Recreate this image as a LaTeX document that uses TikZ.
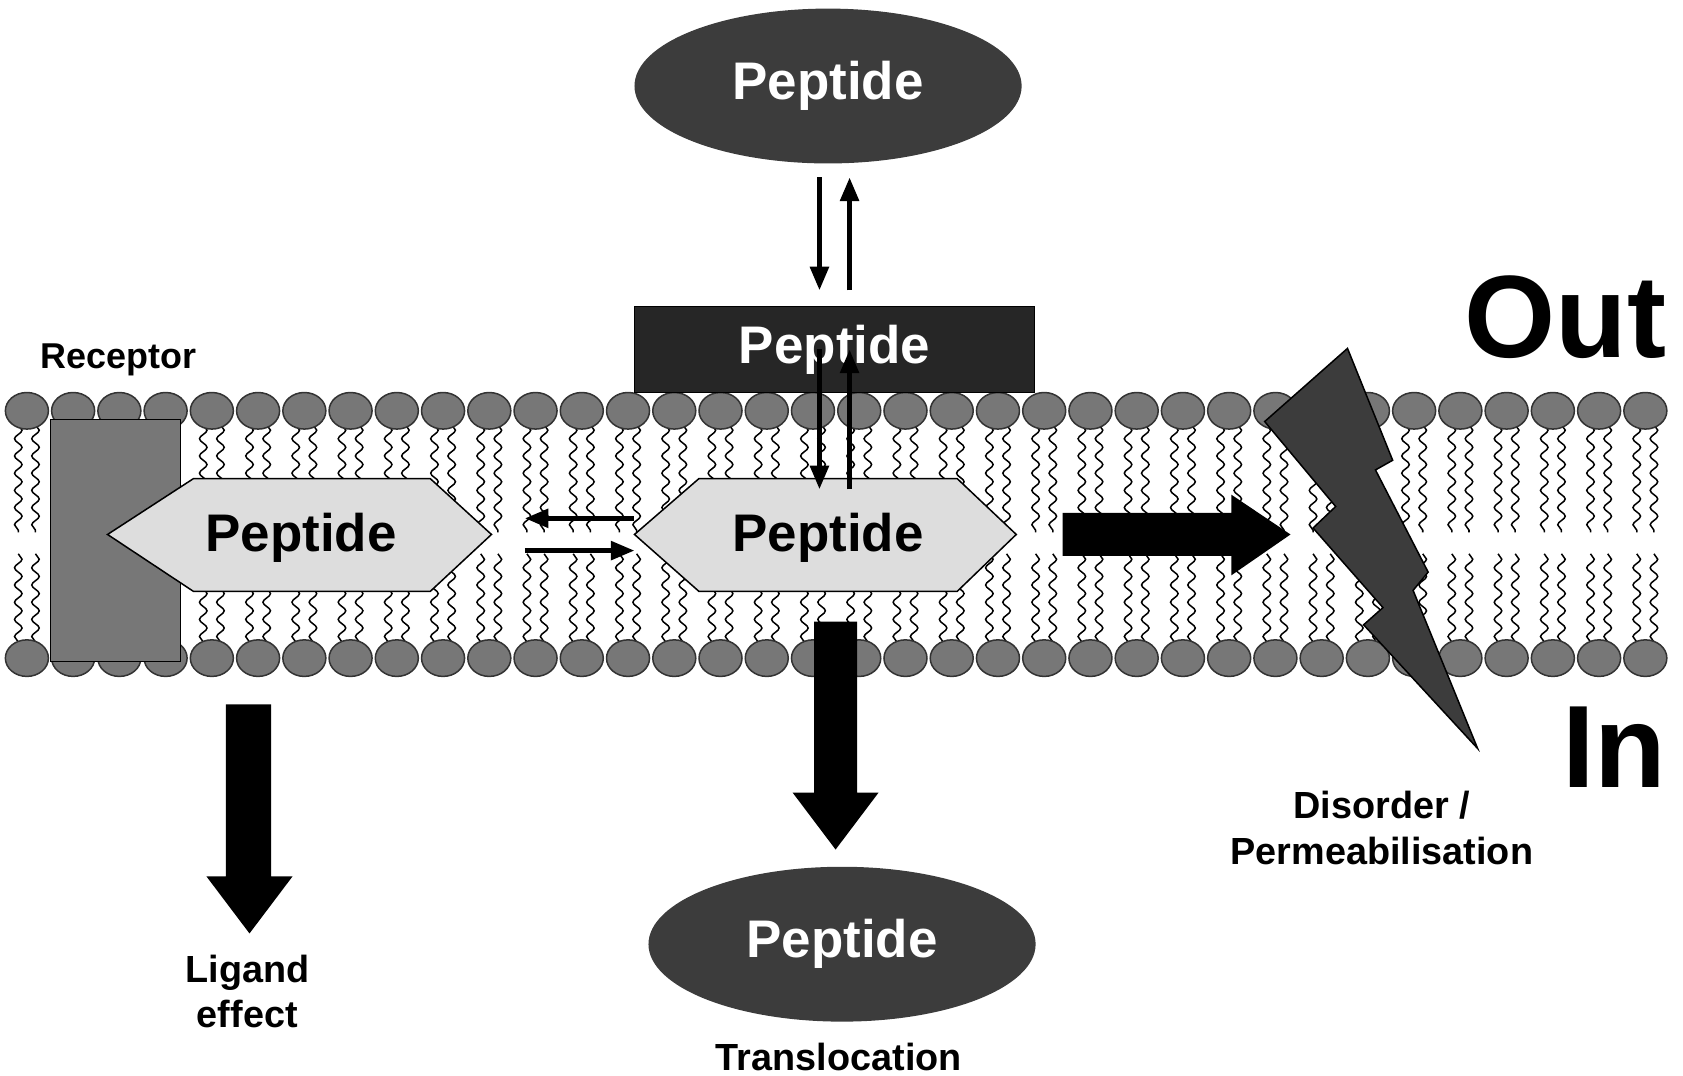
\documentclass[tikz,border=0pt]{standalone}
\usepackage{fontspec}
\setmainfont{Liberation Sans}
\usetikzlibrary{shapes.geometric,arrows.meta,decorations.pathmorphing}
\definecolor{headgray}{HTML}{777777}
\definecolor{darkpep}{HTML}{3C3C3C}
\definecolor{lightpep}{HTML}{DDDDDD}
\tikzset{
  pepdark/.style={ellipse,fill=darkpep,minimum width=3.6cm,minimum height=1.44cm,text=white,font=\bfseries\fontsize{14}{16}\selectfont},
  peptext/.style={font=\bfseries\fontsize{14}{16}\selectfont},
  lbl/.style={font=\bfseries\fontsize{10}{12}\selectfont,align=center},
  thin arrow/.style={line width=1.3pt,-{Triangle[length=0.22cm,width=0.17cm]}},
  tail/.style={decorate,decoration={snake,segment length=0.16cm,amplitude=0.035cm},line width=0.4pt},
  head/.style={ellipse,draw=black!80,fill=headgray,minimum width=0.4cm,minimum height=0.34cm,inner sep=0pt}
}
\begin{document}
\begin{tikzpicture}
\useasboundingbox (0,0) rectangle (15.65,-10.0);
% lipid bilayer
\foreach \i in {0,...,35}{
  \pgfmathsetmacro{\hx}{0.25+0.43*\i}
  \foreach \dx in {-0.08,0.08}{
    \draw[tail] (\hx+\dx,-3.95) -- (\hx+\dx,-4.95);
    \draw[tail] (\hx+\dx,-5.15) -- (\hx+\dx,-6.0);
  }
  \node[head] (ht\i) at (\hx,-3.82) {};
  \node[head] (hb\i) at (\hx,-6.12) {};
}
% receptor
\draw[fill=headgray] (0.47,-3.9) rectangle (1.68,-6.15);
\node[lbl,font=\bfseries\fontsize{9.5}{11}\selectfont] (rec) at (1.1,-3.35) {Receptor};
% peptides in membrane
\draw[fill=lightpep] (1.0,-4.97) -- (1.8,-4.45) -- (4.0,-4.45) -- (4.57,-4.97) -- (4.0,-5.5) -- (1.8,-5.5) -- cycle;
\node[peptext] (pl) at (2.8,-5.0) {Peptide};
\draw[fill=lightpep] (5.9,-4.97) -- (6.5,-4.45) -- (8.9,-4.45) -- (9.45,-4.97) -- (8.9,-5.5) -- (6.5,-5.5) -- cycle;
\node[peptext] (pm) at (7.7,-5.0) {Peptide};
% surface peptide
\node[draw=black,fill=black!85,minimum width=3.72cm,minimum height=0.8cm,text=white,peptext] (ps) at (7.76,-3.25) {Peptide};
% free peptides
\node[pepdark] (pt) at (7.7,-0.8) {Peptide};
\node[pepdark] (pb) at (7.83,-8.78) {Peptide};
% equilibria
\coordinate (a1) at (7.62,-1.65); \coordinate (a2) at (7.62,-2.7);
\coordinate (b1) at (7.9,-2.7);  \coordinate (b2) at (7.9,-1.65);
\draw[thin arrow] (a1) -- (a2); \draw[thin arrow] (b1) -- (b2);
\coordinate (c1) at (7.62,-3.25); \coordinate (c2) at (7.62,-4.55);
\coordinate (d1) at (7.9,-4.55);  \coordinate (d2) at (7.9,-3.25);
\draw[thin arrow] (c1) -- (c2); \draw[thin arrow] (d1) -- (d2);
\coordinate (e1) at (5.9,-4.82); \coordinate (e2) at (4.88,-4.82);
\coordinate (f1) at (4.88,-5.12); \coordinate (f2) at (5.9,-5.12);
\draw[thin arrow] (e1) -- (e2); \draw[thin arrow] (f1) -- (f2);
% thick arrows
\fill (9.88,-4.77) -- (11.45,-4.77) -- (11.45,-4.6) -- (12.0,-4.97) -- (11.45,-5.35) -- (11.45,-5.17) -- (9.88,-5.17) -- cycle;
\fill (2.1,-6.55) -- (2.52,-6.55) -- (2.52,-8.15) -- (2.72,-8.15) -- (2.32,-8.68) -- (1.92,-8.15) -- (2.1,-8.15) -- cycle;
\fill (7.57,-5.78) -- (7.97,-5.78) -- (7.97,-7.37) -- (8.17,-7.37) -- (7.77,-7.9) -- (7.37,-7.37) -- (7.57,-7.37) -- cycle;
% lightning
\draw[fill=darkpep,draw=black] (12.53,-3.24) -- (12.95,-4.28) -- (12.79,-4.37) -- (13.28,-5.32) -- (13.14,-5.49) -- (13.74,-6.96) -- (12.68,-5.81) -- (12.86,-5.65) -- (12.21,-4.91) -- (12.42,-4.71) -- (11.76,-3.92) -- cycle;
% labels
\node[lbl] (lig) at (2.3,-9.22) {Ligand\\effect};
\node[lbl] (trans) at (7.8,-9.83) {Translocation};
\node[lbl] (dis) at (12.85,-7.7) {Disorder /\\Permeabilisation};
\node[font=\bfseries\fontsize{31}{34}\selectfont,anchor=east] (out) at (15.62,-2.95) {Out};
\node[font=\bfseries\fontsize{31}{34}\selectfont,anchor=east] (in) at (15.62,-6.95) {In};
\end{tikzpicture}
\end{document}
